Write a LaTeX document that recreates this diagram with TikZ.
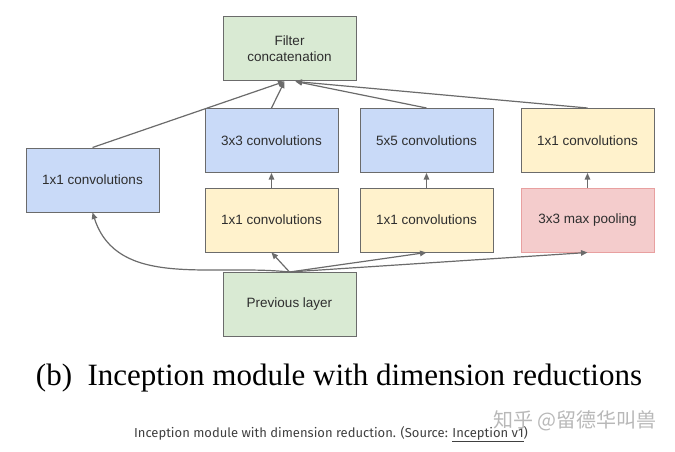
\documentclass[tikz,border=0pt]{standalone}
\usepackage{fontspec}
\setmainfont{Liberation Serif}
\newfontfamily\boxfont{Liberation Sans}
\newfontfamily\notefont{Fira Sans}
\newfontfamily\cjk{Noto Sans CJK SC}
\usetikzlibrary{arrows.meta}

\definecolor{layergreen}{HTML}{D9EAD3}
\definecolor{convblue}{HTML}{C9DAF8}
\definecolor{reduceyellow}{HTML}{FFF2CC}
\definecolor{poolpink}{HTML}{F4CCCC}
\definecolor{pooledge}{HTML}{E8A0A0}
\definecolor{edgegray}{HTML}{6B6B6B}
\definecolor{textgray}{HTML}{2E2E2E}

\tikzset{
  block/.style={draw=edgegray, line width=1pt, minimum width=133pt,
    minimum height=64pt, inner sep=0pt, align=center,
    font=\boxfont\fontsize{13.5}{16}\selectfont, text=textgray},
  link/.style={draw=edgegray, line width=1.2pt,
    -{Triangle[length=6.5pt,width=5.5pt]}}
}

\begin{document}
\begin{tikzpicture}[x=1pt, y=-1pt]
  \useasboundingbox (0,0) rectangle (675,452); % Page frame

  % Centres of the blocks
  \coordinate (P) at (289.5,49);   % concatenation
  \coordinate (Q) at (289.5,304.5); % previous layer
  \coordinate (A) at (92.5,180);   % left branch
  \coordinate (B) at (271.5,140.5); % 3x3 branch
  \coordinate (C) at (426.5,140.5); % 5x5 branch
  \coordinate (D) at (587.5,140.5); % pooling branch

  % Blocks
  \node[block, fill=layergreen] (concat) at (P) {Filter\\concatenation};
  \node[block, fill=layergreen] (prev) at (Q) {Previous layer};
  \node[block, fill=convblue] (one) at (A) {1x1 convolutions};
  \node[block, fill=convblue] (three) at (B) {3x3 convolutions};
  \node[block, fill=reduceyellow] (redthree) at ([yshift=-79.5pt]B) {1x1 convolutions};
  \node[block, fill=convblue] (five) at (C) {5x5 convolutions};
  \node[block, fill=reduceyellow] (redfive) at ([yshift=-79.5pt]C) {1x1 convolutions};
  \node[block, fill=reduceyellow] (projpool) at (D) {1x1 convolutions};
  \node[block, fill=poolpink, draw=pooledge] (pool) at ([yshift=-79.5pt]D) {3x3 max pooling};

  % Inputs of the concatenation
  \coordinate (inL) at ([xshift=-5pt]concat.south);
  \coordinate (inR) at ([xshift=6pt]concat.south);

  % From the previous layer
  \draw[link] (prev.north) to[out=174, in=-72] (one.south);
  \draw[link] (prev.north) -- (redthree.south);
  \draw[link] (prev.north) -- (redfive.south);
  \draw[link] (prev.north) -- (pool.south);

  % Inside the branches
  \draw[link] (redthree) -- (three);
  \draw[link] (redfive) -- (five);
  \draw[link] (pool) -- (projpool);

  % Into the concatenation
  \draw[link] (one.north) -- (inL);
  \draw[link] (three.north) -- (inL);
  \draw[link] (five.north) -- (inR);
  \draw[link] (projpool.north) -- (inR);

  % Captions
  \node[font=\fontsize{31}{35}\selectfont, anchor=base] (title) at (339,385)
    {(b)\ \ Inception module with dimension reductions};
  \node[font=\notefont\fontsize{13}{15}\selectfont, text=black!75, anchor=base] (note) at (331,437)
    {Inception module with dimension reduction. (Source: \underline{Inception v1})};
  \node[font=\cjk\fontsize{20}{24}\selectfont, text=black!28] (mark) at (575,421)
    {知乎 @留德华叫兽};
\end{tikzpicture}
\end{document}
